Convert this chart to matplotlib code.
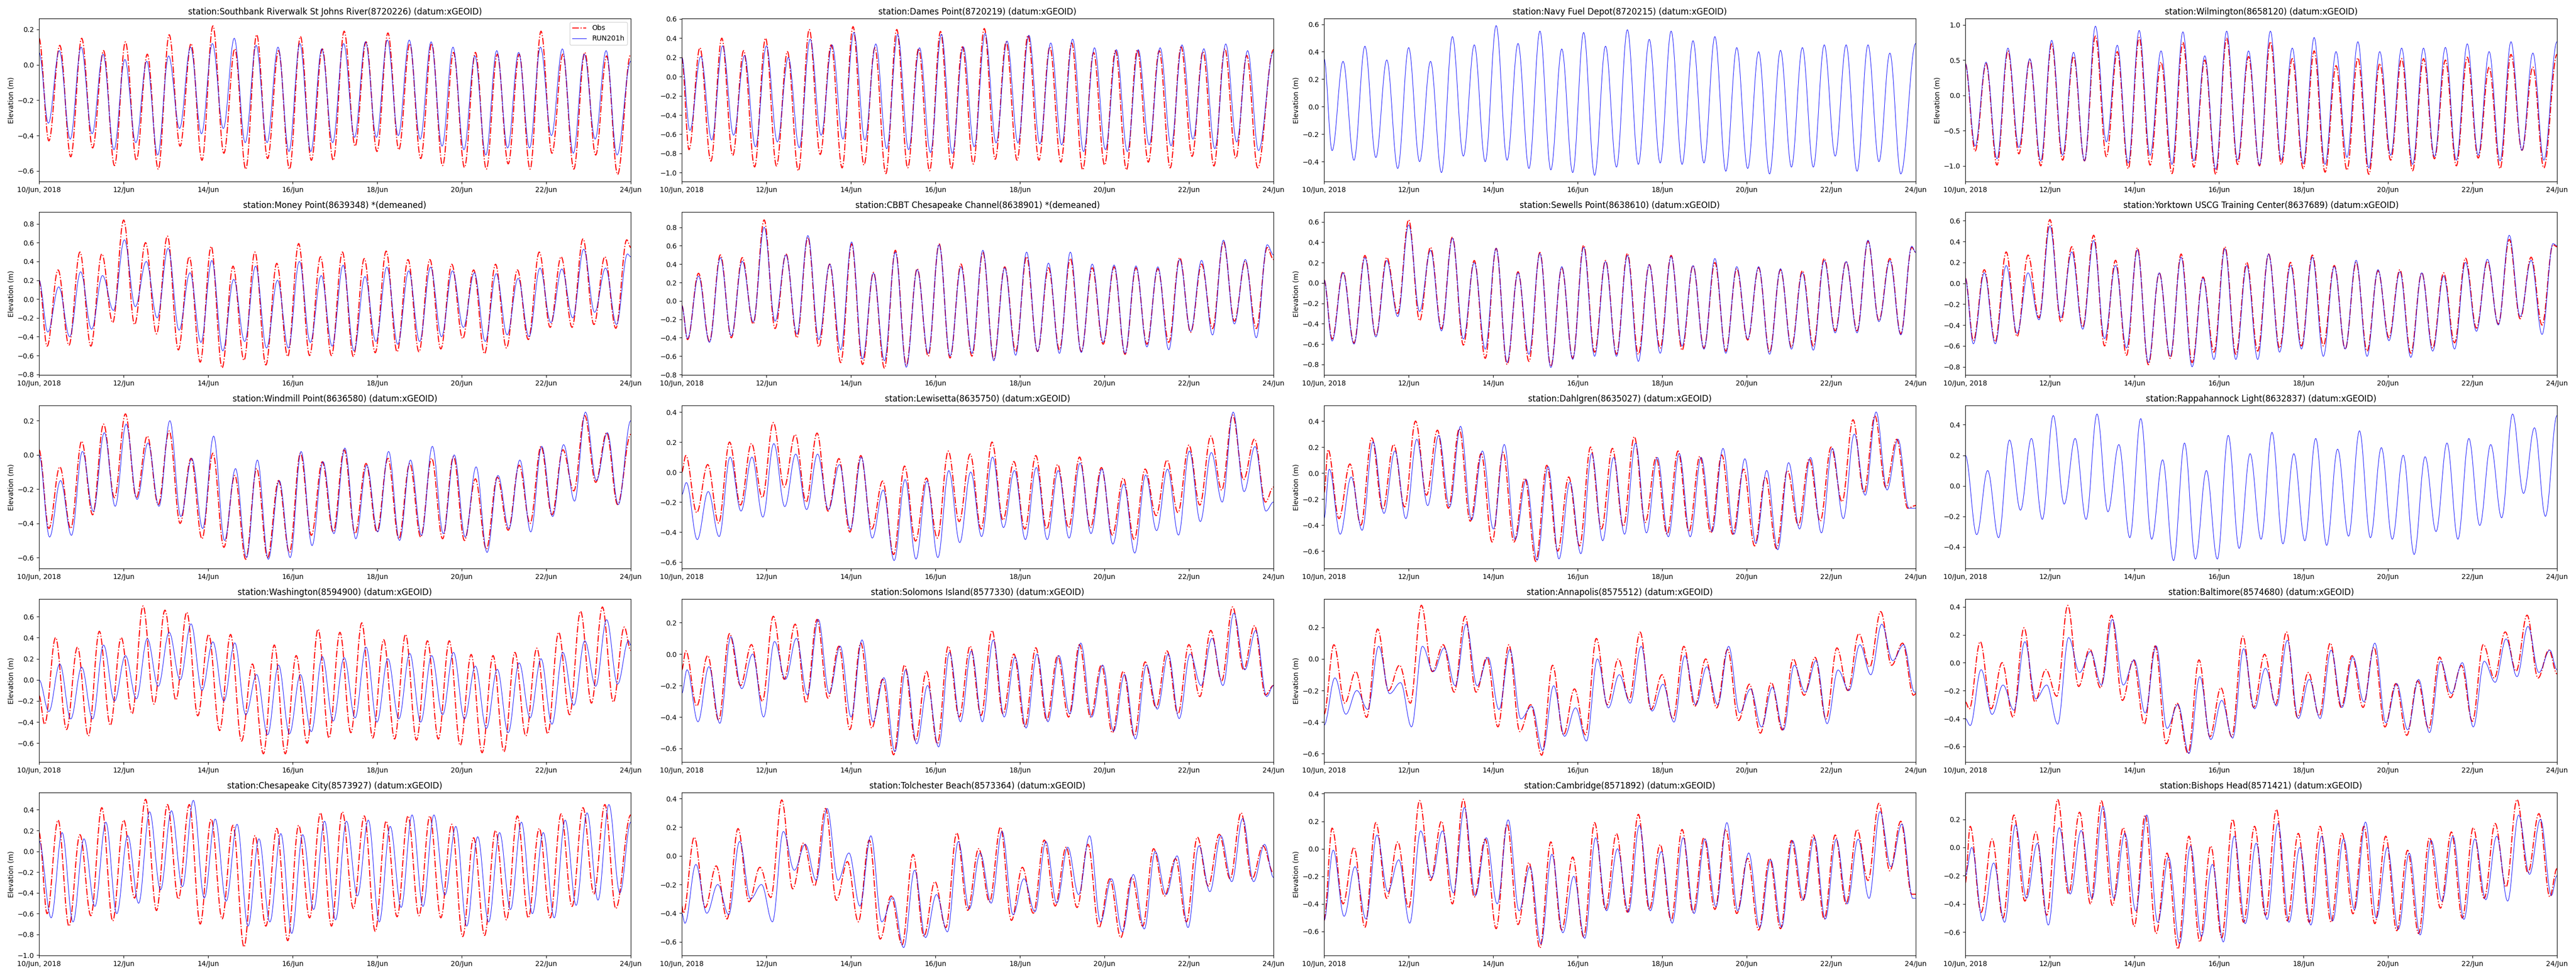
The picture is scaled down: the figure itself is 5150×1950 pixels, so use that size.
import numpy as np
import matplotlib
matplotlib.use("Agg")
import matplotlib.pyplot as plt
from matplotlib.ticker import MaxNLocator
from matplotlib.path import Path
from matplotlib.patches import PathPatch
from matplotlib.lines import Line2D

# water level, 10 Jun 2018 00:00 to 24 Jun 2018 00:00 (hours)
# each series: value at start, successive high/low water extremes, value at end
HALF_TIDE = 6.21
END_HOUR = 336
tick_hours = [0, 48, 96, 144, 192, 240, 288, 336]
tick_labels = ["10/Jun, 2018", "12/Jun", "14/Jun", "16/Jun", "18/Jun", "20/Jun", "22/Jun", "24/Jun"]

titles = [
    "station:Southbank Riverwalk St Johns River(8720226) (datum:xGEOID)",
    "station:Dames Point(8720219) (datum:xGEOID)",
    "station:Navy Fuel Depot(8720215) (datum:xGEOID)",
    "station:Wilmington(8658120) (datum:xGEOID)",
    "station:Money Point(8639348) *(demeaned)",
    "station:CBBT Chesapeake Channel(8638901) *(demeaned)",
    "station:Sewells Point(8638610) (datum:xGEOID)",
    "station:Yorktown USCG Training Center(8637689) (datum:xGEOID)",
    "station:Windmill Point(8636580) (datum:xGEOID)",
    "station:Lewisetta(8635750) (datum:xGEOID)",
    "station:Dahlgren(8635027) (datum:xGEOID)",
    "station:Rappahannock Light(8632837) (datum:xGEOID)",
    "station:Washington(8594900) (datum:xGEOID)",
    "station:Solomons Island(8577330) (datum:xGEOID)",
    "station:Annapolis(8575512) (datum:xGEOID)",
    "station:Baltimore(8574680) (datum:xGEOID)",
    "station:Chesapeake City(8573927) (datum:xGEOID)",
    "station:Tolchester Beach(8573364) (datum:xGEOID)",
    "station:Cambridge(8571892) (datum:xGEOID)",
    "station:Bishops Head(8571421) (datum:xGEOID)",
]

ylims = [(-0.66, 0.262), (-1.092, 0.605), (-0.545, 0.642), (-1.223, 1.09),
         (-0.807, 0.926), (-0.805, 0.966), (-0.904, 0.697), (-0.879, 0.683),
         (-0.664, 0.289), (-0.643, 0.444), (-0.734, 0.52), (-0.542, 0.526),
         (-0.778, 0.766), (-0.686, 0.35), (-0.653, 0.38), (-0.711, 0.456),
         (-1.003, 0.566), (-0.695, 0.442), (-0.775, 0.409), (-0.766, 0.39)]

# hour of first extreme (obs, model)
obs_first = [5.6, 4.1, None, 5.6, 4.6, 3.3, 4.6, 4.6, 5.6, 2.3,
             2.3, None, 3.2, 2.3, 5.6, 2.3, 4.6, 0.9, 4.6, 2.8]
mod_first = [5.3, 4.6, 4.6, 5.6, 5.0, 3.3, 4.6, 4.6, 6.0, 2.6,
             3.0, 6.5, 5.6, 3.0, 6.2, 2.8, 6.9, 1.8, 5.2, 3.7]

southbank_obs = [0.15, -0.43, 0.11, -0.52, 0.15, -0.47, 0.08, -0.57, 0.13, -0.54, 0.06, -0.59, 0.17,
                 -0.46, 0.12, -0.54, 0.22, -0.50, 0.09, -0.59, 0.17, -0.53, 0.08, -0.59, 0.16, -0.54, 0.09,
                 -0.54, 0.19, -0.46, 0.13, -0.49, 0.18, -0.48, 0.12, -0.53, 0.12, -0.57, 0.07, -0.58, 0.07,
                 -0.59, 0.06, -0.56, 0.06, -0.59, 0.19, -0.50, 0.06, -0.59, 0.07, -0.51, 0.05, -0.62, 0.06]
southbank_mod = [0.07, -0.33, 0.08, -0.42, 0.10, -0.39, 0.06, -0.48, 0.03, -0.44, 0.02, -0.51, 0.05,
                 -0.36, 0.10, -0.39, 0.12, -0.36, 0.15, -0.44, 0.11, -0.44, 0.10, -0.49, 0.12, -0.49, 0.09,
                 -0.44, 0.12, -0.41, 0.13, -0.41, 0.14, -0.40, 0.14, -0.42, 0.13, -0.46, 0.10, -0.48, 0.05,
                 -0.51, 0.08, -0.47, 0.07, -0.47, 0.10, -0.40, 0.09, -0.50, 0.06, -0.42, 0.08, -0.51, 0.02]

dames_obs = [0.20, -0.76, 0.30, -0.88, 0.40, -0.82, 0.27, -0.94, 0.40, -0.93, 0.26, -0.98, 0.49,
             -0.81, 0.33, -0.95, 0.52, -0.92, 0.30, -1.01, 0.49, -0.95, 0.29, -0.98, 0.47, -0.96, 0.31,
             -0.91, 0.50, -0.86, 0.36, -0.87, 0.43, -0.87, 0.31, -0.89, 0.35, -0.97, 0.25, -0.92, 0.27,
             -0.97, 0.28, -0.89, 0.27, -0.95, 0.31, -0.83, 0.26, -0.93, 0.29, -0.85, 0.22, -0.95, 0.28]
dames_mod = [0.20, -0.56, 0.21, -0.66, 0.32, -0.61, 0.22, -0.73, 0.32, -0.68, 0.20, -0.74, 0.39,
             -0.61, 0.33, -0.65, 0.46, -0.66, 0.34, -0.75, 0.44, -0.76, 0.30, -0.79, 0.44, -0.80, 0.31,
             -0.73, 0.45, -0.69, 0.37, -0.69, 0.43, -0.70, 0.35, -0.71, 0.39, -0.78, 0.30, -0.76, 0.28,
             -0.78, 0.28, -0.71, 0.30, -0.72, 0.33, -0.65, 0.29, -0.75, 0.34, -0.68, 0.27, -0.77, 0.26]

navy_mod = [0.35, -0.32, 0.33, -0.39, 0.44, -0.37, 0.34, -0.45, 0.43, -0.40, 0.33, -0.48, 0.51,
            -0.36, 0.45, -0.40, 0.59, -0.39, 0.46, -0.45, 0.55, -0.46, 0.42, -0.48, 0.54, -0.50, 0.44,
            -0.44, 0.56, -0.42, 0.49, -0.41, 0.55, -0.42, 0.48, -0.41, 0.51, -0.47, 0.43, -0.45, 0.40,
            -0.49, 0.41, -0.44, 0.43, -0.44, 0.45, -0.36, 0.45, -0.47, 0.45, -0.40, 0.39, -0.49, 0.46]

wilmington_obs = [0.45, -0.79, 0.45, -0.99, 0.63, -0.83, 0.50, -1.00, 0.73, -0.92, 0.55, -0.93, 0.84,
                  -0.87, 0.62, -1.04, 0.82, -0.99, 0.47, -1.11, 0.75, -1.02, 0.50, -1.12, 0.81, -0.98, 0.55,
                  -1.00, 0.76, -0.98, 0.52, -1.04, 0.63, -1.09, 0.42, -1.06, 0.53, -1.12, 0.45, -0.92, 0.52,
                  -1.07, 0.52, -0.90, 0.50, -1.00, 0.54, -0.89, 0.40, -1.04, 0.58, -0.78, 0.40, -1.03, 0.58]
wilmington_mod = [0.45, -0.72, 0.47, -0.90, 0.67, -0.74, 0.52, -0.93, 0.78, -0.85, 0.61, -0.93, 0.98,
                  -0.66, 0.71, -0.96, 0.92, -0.85, 0.63, -0.98, 0.90, -0.93, 0.56, -1.05, 0.91, -0.92, 0.63,
                  -0.99, 0.91, -0.92, 0.67, -0.97, 0.82, -0.98, 0.62, -0.88, 0.76, -1.03, 0.62, -0.85, 0.67,
                  -0.98, 0.67, -0.87, 0.68, -0.92, 0.73, -0.85, 0.62, -0.93, 0.76, -0.78, 0.60, -0.92, 0.76]

money_obs = [0.20, -0.50, 0.31, -0.49, 0.50, -0.50, 0.48, -0.25, 0.84, -0.27, 0.60, -0.37, 0.67,
             -0.54, 0.45, -0.67, 0.56, -0.73, 0.35, -0.65, 0.50, -0.70, 0.38, -0.61, 0.59, -0.60, 0.45,
             -0.60, 0.50, -0.61, 0.43, -0.57, 0.51, -0.56, 0.42, -0.56, 0.42, -0.53, 0.37, -0.42, 0.31,
             -0.58, 0.37, -0.52, 0.31, -0.43, 0.50, -0.30, 0.45, -0.30, 0.64, -0.27, 0.45, -0.31, 0.63, 0.55]
money_mod = [0.20, -0.35, 0.13, -0.40, 0.29, -0.32, 0.25, -0.12, 0.63, -0.08, 0.40, -0.20, 0.54,
             -0.33, 0.28, -0.46, 0.41, -0.55, 0.21, -0.45, 0.35, -0.52, 0.20, -0.52, 0.40, -0.46, 0.25,
             -0.50, 0.36, -0.55, 0.24, -0.45, 0.34, -0.48, 0.30, -0.45, 0.34, -0.40, 0.30, -0.30, 0.28,
             -0.45, 0.27, -0.38, 0.22, -0.40, 0.33, -0.25, 0.32, -0.20, 0.53, -0.14, 0.33, -0.27, 0.48, 0.45]

cbbt_obs = [-0.05, -0.42, 0.30, -0.44, 0.50, -0.40, 0.47, -0.25, 0.88, -0.30, 0.51, -0.40, 0.69,
            -0.50, 0.40, -0.67, 0.62, -0.69, 0.31, -0.73, 0.55, -0.70, 0.35, -0.60, 0.62, -0.62, 0.40,
            -0.60, 0.53, -0.63, 0.37, -0.55, 0.48, -0.55, 0.36, -0.53, 0.46, -0.55, 0.36, -0.47, 0.37,
            -0.58, 0.36, -0.47, 0.35, -0.45, 0.47, -0.34, 0.40, -0.30, 0.64, -0.22, 0.43, -0.30, 0.58, 0.45]
cbbt_mod = [-0.05, -0.41, 0.27, -0.45, 0.47, -0.38, 0.43, -0.23, 0.80, -0.22, 0.50, -0.36, 0.71,
            -0.42, 0.40, -0.53, 0.64, -0.63, 0.30, -0.65, 0.53, -0.72, 0.34, -0.57, 0.61, -0.60, 0.37,
            -0.57, 0.55, -0.65, 0.36, -0.59, 0.53, -0.55, 0.41, -0.57, 0.53, -0.56, 0.40, -0.45, 0.39,
            -0.57, 0.38, -0.50, 0.37, -0.53, 0.45, -0.33, 0.44, -0.37, 0.66, -0.25, 0.45, -0.40, 0.61, 0.50]

sewells_obs = [0.03, -0.55, 0.11, -0.59, 0.27, -0.52, 0.25, -0.30, 0.62, -0.37, 0.35, -0.45, 0.45,
               -0.61, 0.22, -0.74, 0.34, -0.80, 0.11, -0.77, 0.30, -0.82, 0.15, -0.74, 0.37, -0.68, 0.22,
               -0.70, 0.29, -0.70, 0.18, -0.64, 0.27, -0.66, 0.17, -0.64, 0.20, -0.67, 0.14, -0.56, 0.15,
               -0.68, 0.13, -0.63, 0.12, -0.62, 0.24, -0.47, 0.21, -0.47, 0.41, -0.37, 0.24, -0.50, 0.35, 0.30]
sewells_mod = [0.03, -0.57, 0.10, -0.60, 0.25, -0.53, 0.22, -0.33, 0.57, -0.28, 0.32, -0.47, 0.44,
               -0.55, 0.20, -0.65, 0.34, -0.78, 0.10, -0.70, 0.29, -0.83, 0.16, -0.75, 0.35, -0.72, 0.21,
               -0.72, 0.27, -0.77, 0.18, -0.69, 0.26, -0.62, 0.17, -0.65, 0.24, -0.69, 0.16, -0.55, 0.16,
               -0.70, 0.14, -0.65, 0.10, -0.66, 0.22, -0.49, 0.21, -0.49, 0.42, -0.38, 0.22, -0.51, 0.36, 0.30]

yorktown_obs = [0.05, -0.55, 0.13, -0.56, 0.30, -0.51, 0.27, -0.33, 0.61, -0.37, 0.35, -0.42, 0.46,
                -0.60, 0.22, -0.69, 0.34, -0.78, 0.10, -0.72, 0.28, -0.76, 0.06, -0.66, 0.35, -0.68, 0.20,
                -0.65, 0.28, -0.62, 0.20, -0.60, 0.27, -0.60, 0.17, -0.63, 0.20, -0.65, 0.12, -0.52, 0.13,
                -0.67, 0.10, -0.62, 0.10, -0.57, 0.24, -0.43, 0.21, -0.39, 0.42, -0.34, 0.25, -0.40, 0.37, 0.35]
yorktown_mod = [0.05, -0.58, 0.10, -0.58, 0.17, -0.48, 0.10, -0.35, 0.55, -0.33, 0.30, -0.44, 0.41,
                -0.53, 0.17, -0.62, 0.32, -0.76, 0.10, -0.70, 0.25, -0.80, 0.05, -0.73, 0.33, -0.73, 0.17,
                -0.73, 0.28, -0.66, 0.17, -0.63, 0.25, -0.70, 0.16, -0.63, 0.22, -0.70, 0.13, -0.55, 0.11,
                -0.71, 0.10, -0.65, 0.07, -0.63, 0.20, -0.46, 0.23, -0.40, 0.46, -0.32, 0.22, -0.49, 0.38, 0.36]

windmill_obs = [0.03, -0.43, -0.07, -0.43, 0.08, -0.35, 0.18, -0.25, 0.24, -0.25, 0.11, -0.29, 0.14,
                -0.40, -0.02, -0.49, 0.01, -0.54, -0.12, -0.61, -0.08, -0.60, -0.15, -0.57, 0.01, -0.47, -0.04,
                -0.45, 0.03, -0.46, -0.05, -0.45, -0.02, -0.49, -0.05, -0.48, -0.02, -0.49, -0.01, -0.50, -0.14,
                -0.55, -0.13, -0.44, -0.06, -0.40, 0.05, -0.35, 0.03, -0.21, 0.23, -0.16, 0.13, -0.29, 0.12]
windmill_mod = [0.00, -0.48, -0.15, -0.47, 0.02, -0.33, 0.13, -0.30, 0.18, -0.26, 0.07, -0.30, 0.20,
                -0.36, -0.02, -0.43, 0.11, -0.50, -0.08, -0.60, -0.03, -0.61, -0.15, -0.60, 0.02, -0.53, -0.04,
                -0.46, 0.04, -0.49, -0.06, -0.45, 0.02, -0.50, -0.03, -0.47, 0.05, -0.46, 0.00, -0.48, -0.07,
                -0.57, -0.12, -0.43, -0.03, -0.45, 0.05, -0.36, 0.06, -0.27, 0.25, -0.15, 0.13, -0.29, 0.20]

lewisetta_obs = [0.00, 0.11, -0.27, 0.05, -0.34, 0.20, -0.22, 0.19, -0.17, 0.33, -0.10, 0.25, -0.20,
                 0.26, -0.26, 0.09, -0.40, 0.11, -0.38, -0.06, -0.55, 0.04, -0.46, -0.04, -0.44, 0.14, -0.33,
                 0.12, -0.38, 0.20, -0.32, 0.07, -0.38, 0.11, -0.38, 0.05, -0.37, 0.10, -0.37, 0.03, -0.42,
                 -0.04, -0.45, 0.02, -0.29, 0.08, -0.27, 0.18, -0.22, 0.24, -0.12, 0.38, -0.05, 0.22, -0.20, -0.10]
lewisetta_mod = [-0.15, -0.07, -0.45, -0.13, -0.43, 0.10, -0.26, 0.10, -0.30, 0.19, -0.23, 0.12, -0.25,
                 0.12, -0.25, 0.05, -0.38, 0.10, -0.44, -0.12, -0.59, -0.05, -0.58, -0.06, -0.57, 0.01, -0.47,
                 0.00, -0.43, 0.10, -0.37, 0.01, -0.45, 0.03, -0.45, 0.01, -0.44, 0.06, -0.41, 0.02, -0.48,
                 -0.08, -0.54, -0.02, -0.39, 0.02, -0.42, 0.14, -0.33, 0.13, -0.20, 0.40, -0.13, 0.17, -0.26, -0.20]

dahlgren_obs = [-0.15, 0.18, -0.35, 0.07, -0.40, 0.27, -0.28, 0.22, -0.26, 0.40, -0.17, 0.33, -0.27,
                0.34, -0.37, 0.15, -0.53, 0.16, -0.53, -0.04, -0.68, 0.06, -0.60, -0.03, -0.56, 0.20, -0.43,
                0.19, -0.41, 0.28, -0.38, 0.12, -0.47, 0.17, -0.45, 0.13, -0.46, 0.14, -0.47, 0.03, -0.56,
                -0.03, -0.58, 0.02, -0.40, 0.11, -0.37, 0.20, -0.22, 0.41, -0.15, 0.44, -0.11, 0.26, -0.27, -0.25]
dahlgren_mod = [-0.35, 0.03, -0.47, -0.03, -0.44, 0.24, -0.31, 0.17, -0.35, 0.26, -0.25, 0.29, -0.26,
                0.36, -0.36, 0.17, -0.43, 0.22, -0.51, -0.05, -0.67, 0.05, -0.66, -0.07, -0.62, 0.15, -0.52,
                0.12, -0.47, 0.23, -0.46, 0.12, -0.49, 0.15, -0.49, 0.12, -0.45, 0.19, -0.47, 0.11, -0.54,
                0.02, -0.59, 0.08, -0.43, 0.12, -0.46, 0.19, -0.35, 0.30, -0.17, 0.47, -0.13, 0.26, -0.27, -0.27]

rappahannock_mod = [0.20, -0.32, 0.10, -0.34, 0.30, -0.16, 0.31, -0.22, 0.46, -0.12, 0.31, -0.22, 0.47,
                    -0.17, 0.27, -0.34, 0.44, -0.35, 0.17, -0.49, 0.28, -0.48, 0.10, -0.48, 0.33, -0.41, 0.21,
                    -0.35, 0.35, -0.38, 0.21, -0.36, 0.31, -0.39, 0.24, -0.33, 0.36, -0.34, 0.25, -0.35, 0.20,
                    -0.45, 0.19, -0.30, 0.28, -0.35, 0.31, -0.26, 0.27, -0.21, 0.47, -0.05, 0.38, -0.20, 0.46]

washington_obs = [-0.15, -0.42, 0.40, -0.47, 0.31, -0.53, 0.46, -0.43, 0.40, -0.32, 0.70, -0.23, 0.66,
                  -0.19, 0.64, -0.34, 0.43, -0.48, 0.43, -0.58, 0.15, -0.70, 0.33, -0.70, 0.23, -0.60, 0.48,
                  -0.55, 0.45, -0.50, 0.54, -0.55, 0.38, -0.56, 0.43, -0.57, 0.37, -0.56, 0.37, -0.62, 0.24,
                  -0.69, 0.23, -0.68, 0.26, -0.53, 0.30, -0.51, 0.45, -0.33, 0.65, -0.22, 0.69, -0.21, 0.50, 0.28]
washington_mod = [0.00, -0.30, 0.15, -0.37, 0.12, -0.37, 0.33, -0.20, 0.23, -0.18, 0.39, -0.06, 0.45,
                  0.00, 0.53, -0.10, 0.36, -0.20, 0.35, -0.33, 0.05, -0.52, 0.14, -0.51, 0.05, -0.49, 0.22,
                  -0.39, 0.21, -0.36, 0.31, -0.40, 0.20, -0.37, 0.25, -0.40, 0.23, -0.33, 0.26, -0.37, 0.13,
                  -0.46, 0.10, -0.50, 0.16, -0.36, 0.20, -0.42, 0.26, -0.24, 0.37, -0.06, 0.57, -0.04, 0.37, 0.33]

solomons_obs = [-0.10, 0.02, -0.33, -0.01, -0.42, 0.13, -0.20, 0.06, -0.30, 0.24, -0.16, 0.19, -0.31,
                0.22, -0.28, 0.05, -0.48, 0.07, -0.47, -0.16, -0.64, -0.07, -0.55, -0.11, -0.57, 0.05, -0.40,
                0.05, -0.39, 0.15, -0.38, 0.00, -0.46, 0.04, -0.42, -0.01, -0.40, 0.06, -0.40, -0.07, -0.50,
                -0.11, -0.52, -0.05, -0.34, 0.02, -0.38, 0.06, -0.27, 0.15, -0.17, 0.30, -0.10, 0.18, -0.26, -0.20]
solomons_mod = [-0.25, -0.10, -0.43, -0.08, -0.44, 0.11, -0.22, 0.00, -0.40, 0.08, -0.16, 0.10, -0.26,
                0.22, -0.25, 0.05, -0.40, 0.09, -0.43, -0.15, -0.62, -0.10, -0.57, -0.20, -0.59, 0.01, -0.43,
                0.02, -0.43, 0.09, -0.40, -0.02, -0.47, 0.00, -0.43, -0.01, -0.38, 0.07, -0.40, -0.07, -0.49,
                -0.13, -0.54, -0.07, -0.35, 0.00, -0.41, 0.00, -0.20, 0.10, -0.20, 0.26, -0.10, 0.15, -0.27, -0.20]

annapolis_obs = [-0.35, 0.09, -0.28, -0.08, -0.37, 0.19, -0.20, -0.04, -0.28, 0.34, -0.08, 0.09, -0.21,
                 0.27, -0.21, 0.01, -0.43, 0.09, -0.46, -0.29, -0.61, -0.04, -0.48, -0.19, -0.48, 0.13, -0.29,
                 0.00, -0.26, 0.17, -0.32, -0.10, -0.38, 0.08, -0.30, 0.00, -0.31, 0.06, -0.39, -0.16, -0.47,
                 -0.15, -0.45, 0.00, -0.23, 0.01, -0.38, 0.07, -0.20, 0.16, -0.05, 0.30, -0.04, 0.10, -0.23, -0.22]
annapolis_mod = [-0.42, -0.12, -0.35, -0.20, -0.32, 0.08, -0.22, -0.15, -0.43, 0.08, -0.08, 0.07, -0.17,
                 0.22, -0.17, 0.01, -0.32, 0.06, -0.38, -0.30, -0.58, -0.17, -0.49, -0.31, -0.52, 0.00, -0.31,
                 -0.10, -0.28, 0.08, -0.33, -0.16, -0.40, 0.02, -0.29, -0.05, -0.29, 0.08, -0.34, -0.19, -0.43,
                 -0.18, -0.45, -0.04, -0.21, -0.01, -0.41, -0.07, -0.20, 0.09, -0.10, 0.22, -0.01, 0.09, -0.21, -0.21]

baltimore_obs = [-0.28, -0.33, 0.15, -0.33, 0.00, -0.39, 0.25, -0.28, -0.05, -0.24, 0.41, -0.17, 0.10,
                 -0.18, 0.34, -0.27, 0.02, -0.44, 0.12, -0.58, -0.29, -0.65, 0.02, -0.53, -0.18, -0.53, 0.19,
                 -0.32, 0.06, -0.30, 0.22, -0.39, -0.07, -0.38, 0.14, -0.32, 0.05, -0.32, 0.11, -0.46, -0.15,
                 -0.52, -0.13, -0.47, 0.04, -0.25, -0.02, -0.42, 0.13, -0.11, 0.22, -0.06, 0.34, -0.11, 0.09, -0.08]
baltimore_mod = [-0.40, -0.45, -0.05, -0.37, -0.16, -0.34, 0.15, -0.26, -0.16, -0.44, 0.18, -0.07, 0.08,
                 -0.16, 0.31, -0.16, 0.02, -0.36, 0.12, -0.47, -0.30, -0.65, -0.10, -0.55, -0.27, -0.54, 0.10,
                 -0.33, -0.04, -0.31, 0.16, -0.40, -0.12, -0.40, 0.09, -0.32, 0.04, -0.28, 0.14, -0.43, -0.15,
                 -0.48, -0.12, -0.50, 0.01, -0.22, 0.00, -0.46, 0.01, -0.14, 0.17, -0.10, 0.26, -0.07, 0.09, -0.05]

chescity_obs = [0.18, -0.60, 0.30, -0.72, 0.16, -0.62, 0.42, -0.67, 0.30, -0.45, 0.50, -0.57, 0.45,
                -0.46, 0.45, -0.70, 0.31, -0.65, 0.25, -0.92, 0.15, -0.72, 0.22, -0.86, 0.25, -0.64, 0.37,
                -0.72, 0.38, -0.55, 0.34, -0.77, 0.29, -0.63, 0.34, -0.62, 0.34, -0.64, 0.26, -0.82, 0.13,
                -0.81, 0.20, -0.66, 0.34, -0.64, 0.22, -0.64, 0.36, -0.53, 0.42, -0.41, 0.45, -0.55, 0.35]
chescity_mod = [0.10, -0.64, 0.18, -0.68, 0.12, -0.53, 0.28, -0.60, 0.15, -0.50, 0.38, -0.37, 0.39,
                -0.34, 0.49, -0.45, 0.31, -0.48, 0.26, -0.72, 0.12, -0.68, 0.17, -0.79, 0.16, -0.56, 0.29,
                -0.66, 0.29, -0.43, 0.30, -0.68, 0.24, -0.54, 0.35, -0.53, 0.35, -0.42, 0.24, -0.72, 0.14,
                -0.68, 0.18, -0.56, 0.28, -0.60, 0.18, -0.64, 0.30, -0.52, 0.37, -0.47, 0.45, -0.40, 0.28]

tolchester_obs = [-0.35, -0.40, 0.13, -0.36, -0.07, -0.44, 0.19, -0.32, -0.08, -0.29, 0.39, -0.23, 0.09,
                  -0.21, 0.33, -0.31, -0.04, -0.46, 0.11, -0.58, -0.28, -0.62, 0.01, -0.56, -0.18, -0.50, 0.16,
                  -0.38, 0.05, -0.32, 0.20, -0.45, -0.08, -0.40, 0.11, -0.35, 0.06, -0.36, 0.08, -0.50, -0.16,
                  -0.57, -0.15, -0.49, 0.05, -0.28, -0.02, -0.46, 0.13, -0.21, 0.15, -0.16, 0.30, -0.16, 0.07, -0.12]
tolchester_mod = [-0.40, -0.47, -0.06, -0.40, -0.20, -0.41, 0.10, -0.30, -0.20, -0.46, 0.17, -0.10, 0.08,
                  -0.17, 0.33, -0.17, 0.02, -0.35, 0.14, -0.46, -0.29, -0.64, -0.10, -0.57, -0.27, -0.53, 0.10,
                  -0.37, 0.02, -0.33, 0.17, -0.41, -0.16, -0.39, 0.10, -0.33, 0.06, -0.27, 0.14, -0.46, -0.16,
                  -0.53, -0.13, -0.51, 0.03, -0.27, 0.00, -0.50, 0.07, -0.25, 0.14, -0.18, 0.26, -0.18, 0.08, -0.15]

cambridge_obs = [-0.52, 0.15, -0.40, 0.01, -0.57, 0.19, -0.36, 0.05, -0.43, 0.35, -0.23, 0.20, -0.40,
                 0.36, -0.35, 0.07, -0.58, 0.18, -0.55, -0.10, -0.72, 0.05, -0.59, -0.06, -0.64, 0.19, -0.44,
                 0.11, -0.46, 0.25, -0.44, 0.03, -0.52, 0.14, -0.46, 0.08, -0.44, 0.14, -0.47, -0.07, -0.59,
                 -0.07, -0.58, 0.06, -0.38, 0.10, -0.51, 0.10, -0.40, 0.14, -0.23, 0.33, -0.16, 0.20, -0.33, -0.33]
cambridge_mod = [-0.52, -0.01, -0.49, -0.13, -0.51, 0.10, -0.31, -0.08, -0.54, 0.13, -0.21, 0.13, -0.32,
                 0.30, -0.34, 0.08, -0.40, 0.21, -0.45, -0.13, -0.69, -0.04, -0.61, -0.20, -0.65, 0.08, -0.45,
                 0.00, -0.46, 0.17, -0.45, -0.02, -0.54, 0.08, -0.47, 0.07, -0.42, 0.19, -0.45, -0.03, -0.57,
                 -0.08, -0.57, 0.06, -0.37, 0.08, -0.51, 0.07, -0.40, 0.07, -0.36, 0.27, -0.13, 0.18, -0.36, -0.36]

bishops_obs = [-0.25, 0.15, -0.46, 0.06, -0.50, 0.23, -0.38, 0.11, -0.48, 0.34, -0.33, 0.25, -0.40,
               0.33, -0.41, 0.14, -0.56, 0.23, -0.61, -0.04, -0.72, 0.08, -0.67, 0.01, -0.64, 0.20, -0.53,
               0.15, -0.48, 0.27, -0.52, 0.10, -0.53, 0.15, -0.53, 0.10, -0.47, 0.15, -0.54, 0.08, -0.59,
               -0.02, -0.61, 0.07, -0.43, 0.11, -0.50, 0.14, -0.36, 0.17, -0.28, 0.34, -0.18, 0.24, -0.35, -0.15]
bishops_mod = [-0.20, 0.00, -0.52, -0.11, -0.53, 0.16, -0.36, 0.03, -0.55, 0.14, -0.33, 0.12, -0.36,
               0.29, -0.36, 0.10, -0.45, 0.23, -0.53, -0.07, -0.68, 0.01, -0.63, -0.12, -0.67, 0.08, -0.54,
               0.03, -0.51, 0.17, -0.53, 0.00, -0.55, 0.08, -0.52, 0.06, -0.44, 0.18, -0.50, 0.00, -0.58,
               -0.04, -0.62, 0.05, -0.38, 0.08, -0.51, 0.06, -0.37, 0.08, -0.38, 0.23, -0.19, 0.20, -0.34, -0.20]

obs_series = [southbank_obs, dames_obs, None, wilmington_obs, money_obs, cbbt_obs, sewells_obs,
              yorktown_obs, windmill_obs, lewisetta_obs, dahlgren_obs, None, washington_obs,
              solomons_obs, annapolis_obs, baltimore_obs, chescity_obs, tolchester_obs,
              cambridge_obs, bishops_obs]
mod_series = [southbank_mod, dames_mod, navy_mod, wilmington_mod, money_mod, cbbt_mod, sewells_mod,
              yorktown_mod, windmill_mod, lewisetta_mod, dahlgren_mod, rappahannock_mod, washington_mod,
              solomons_mod, annapolis_mod, baltimore_mod, chescity_mod, tolchester_mod,
              cambridge_mod, bishops_mod]


def hours_for(vals, t_first):
    n = len(vals) - 2
    return np.concatenate([[0], t_first + HALF_TIDE * np.arange(n), [END_HOUR]])


def tide_curve(hours, vals):
    # smooth curve through the extremes, flat at each high/low water
    k = 1 - 2 / np.pi
    verts = [(hours[0], vals[0])]
    codes = [Path.MOVETO]
    for t0, y0, t1, y1 in zip(hours[:-1], vals[:-1], hours[1:], vals[1:]):
        d = (t1 - t0) * k
        verts += [(t0 + d, y0), (t1 - d, y1), (t1, y1)]
        codes += [Path.CURVE4] * 3
    return Path(verts, codes)


W, H = 5150, 1950
col_left = [78, 1363, 2647, 3929]
row_top = [37, 424, 811, 1198, 1585]
ax_w, ax_h = 1183, 326

fig = plt.figure(figsize=(W / 100, H / 100), dpi=100)

for i in range(20):
    r, c = divmod(i, 4)
    ax = fig.add_axes([col_left[c] / W, 1 - (row_top[r] + ax_h) / H, ax_w / W, ax_h / H])
    if obs_series[i] is not None:
        p = tide_curve(hours_for(obs_series[i], obs_first[i]), obs_series[i])
        ax.add_patch(PathPatch(p, fill=False, edgecolor='r', linestyle='-.', linewidth=1.5))
    p = tide_curve(hours_for(mod_series[i], mod_first[i]), mod_series[i])
    ax.add_patch(PathPatch(p, fill=False, edgecolor='b', linestyle='-', linewidth=0.7))
    ax.set_xlim(0, END_HOUR)
    ax.set_ylim(*ylims[i])
    ax.yaxis.set_major_locator(MaxNLocator(nbins=9, steps=[1, 2, 2.5, 5, 10]))
    ax.set_xticks(tick_hours)
    ax.set_xticklabels(tick_labels)
    ax.set_title(titles[i])
    if c in (0, 2) or i == 3:
        ax.set_ylabel('Elevation (m)')
    if i == 0:
        handles = [Line2D([], [], color='r', linestyle='-.', linewidth=1.5, label='Obs'),
                   Line2D([], [], color='b', linestyle='-', linewidth=0.7, label='RUN201h')]
        ax.legend(handles=handles, loc='upper right')

fig.savefig('out.png', dpi=100)
